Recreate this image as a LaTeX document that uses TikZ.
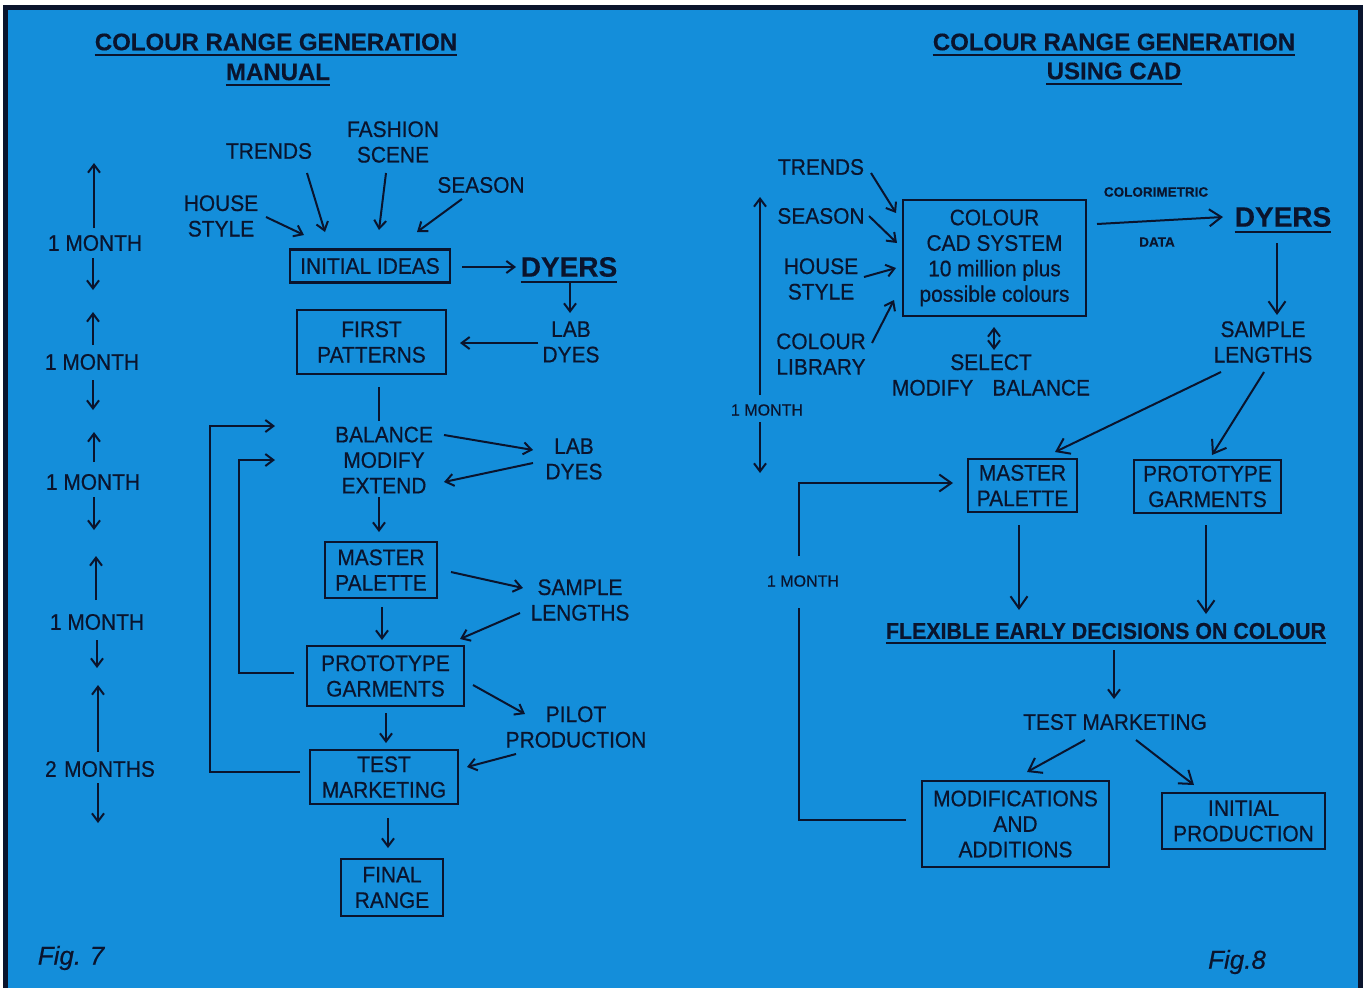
\documentclass[tikz,border=0pt]{standalone}
\usepackage{fontspec}
\setmainfont{Liberation Sans}[FakeStretch=0.93,FakeBold=0.5]
\newfontfamily\wide{Liberation Sans}[FakeBold=0.3]
\usetikzlibrary{arrows.meta}
\definecolor{bg}{RGB}{20,142,218}
\definecolor{ink}{RGB}{10,20,45}
\begin{document}
\begin{tikzpicture}[x=1pt,y=-1pt,
  txt/.style={font=\fontsize{22.5}{25.5}\selectfont, align=center, inner sep=0pt, text=ink},
  box/.style={txt, draw=ink, line width=2.2pt},
  ttl/.style={font=\wide\bfseries\fontsize{24}{28}\selectfont, inner sep=0pt, text=ink},
  big/.style={font=\wide\bfseries\fontsize{28}{32}\selectfont, inner sep=0pt, text=ink},
  flexs/.style={font=\bfseries\fontsize{23}{26}\selectfont, inner sep=0pt, text=ink},
  small/.style={font=\wide\bfseries\fontsize{13.5}{16}\selectfont, inner sep=0pt, text=ink},
  smallm/.style={font=\wide\fontsize{16}{18}\selectfont, inner sep=0pt, text=ink},
  figs/.style={font=\wide\itshape\fontsize{26}{30}\selectfont, inner sep=0pt, text=ink},
  ln/.style={draw=ink, line width=2pt},
  arr/.style={ln, -{Straight Barb[length=8pt,width=12pt]}},
  arrB/.style={ln, -{Straight Barb[length=12pt,width=17pt]}},
  ul/.style={draw=ink, line width=2pt}]
\useasboundingbox (0,0) rectangle (1367,988);
% background and frame
\fill[white] (0,0) rectangle (1367,988);
\fill[ink] (3,5) rectangle (1363,988);
\fill[bg] (8,10) rectangle (1358,988);

% ---------------- LEFT PANEL ----------------
\node[ttl] (t1) at (276,42) {COLOUR RANGE GENERATION};
\node[ttl] (t2) at (278,72) {MANUAL};
\draw[ul] ([yshift=-4.5pt]t1.base west) -- ([yshift=-4.5pt]t1.base east);
\draw[ul] ([yshift=-4.5pt]t2.base west) -- ([yshift=-4.5pt]t2.base east);

\node[txt] (trends1) at (269,151) {TRENDS};
\node[txt] (fashion) at (393,142) {FASHION\\SCENE};
\node[txt] (season1) at (481,185) {SEASON};
\node[txt] (house1) at (221,216) {HOUSE\\STYLE};
\node[box, minimum width=160, minimum height=33] (initial) at (370,266) {INITIAL IDEAS};
\node[big] (dyers1) at (569,267) {DYERS};
\draw[ul] ([yshift=-5pt]dyers1.base west) -- ([yshift=-5pt]dyers1.base east);
\node[txt] (lab1) at (571,342) {LAB\\DYES};
\node[box, minimum width=149, minimum height=64] (first) at (371.5,342) {FIRST\\PATTERNS};
\node[txt] (bme) at (384,460) {BALANCE\\MODIFY\\EXTEND};
\node[txt] (lab2) at (574,459) {LAB\\DYES};
\node[box, minimum width=112, minimum height=56] (master1) at (381,570) {MASTER\\PALETTE};
\node[txt] (sample1) at (580,600) {SAMPLE\\LENGTHS};
\node[box, minimum width=157, minimum height=60] (proto1) at (385.5,676) {PROTOTYPE\\GARMENTS};
\node[txt] (pilot) at (576,727) {PILOT\\PRODUCTION};
\node[box, minimum width=148, minimum height=54] (test1) at (384,777) {TEST\\MARKETING};
\node[box, minimum width=102, minimum height=57] (final) at (392,887.5) {FINAL\\RANGE};
\node[figs] (fig7) at (71,958) {Fig.\,\,7};

% months
\node[txt] (m1) at (95,243) {1 MONTH};
\node[txt] (m2) at (92,362) {1 MONTH};
\node[txt] (m3) at (93,482) {1 MONTH};
\node[txt] (m4) at (97,622) {1 MONTH};
\node[txt] (m5) at (100,769) {2\,\,MONTHS};
\draw[arr] (94,228) -- (94,163);
\draw[arr] (93,258) -- (93,290);
\draw[arr] (93,345) -- (93,312);
\draw[arr] (93,380) -- (93,410);
\draw[arr] (94,462) -- (94,432);
\draw[arr] (94,497) -- (94,530);
\draw[arr] (96,600) -- (96,556);
\draw[arr] (97,640) -- (97,668);
\draw[arr] (98,752) -- (98,685);
\draw[arr] (98,783) -- (98,823);

% left connectors
\draw[arr] (266,217) -- (304,235);
\draw[arr] (307,173) -- (325,232);
\draw[arr] (386,173) -- (379,230);
\draw[arr] (462,199) -- (417,232);
\draw[arr] (462,267) -- (516,267);
\draw[arr] (570,283) -- (570,313);
\draw[arr] (538,343) -- (460,343);
\draw[ln] (379,387) -- (379,421);
\draw[arr] (444,435) -- (533,450);
\draw[arr] (533,463) -- (444,482);
\draw[arr] (379,497) -- (379,532);
\draw[arr] (451,572) -- (523,588);
\draw[arr] (520,613) -- (460,639);
\draw[arr] (382,607) -- (382,640);
\draw[arr] (473,685) -- (525,714);
\draw[arr] (516,754) -- (467,767);
\draw[arr] (386,713) -- (386,743);
\draw[arr] (388,818) -- (388,848);
\draw[arr] (294,673) -- (239,673) -- (239,460) -- (275,460);
\draw[arr] (300,772) -- (210,772) -- (210,426) -- (275,426);

% ---------------- RIGHT PANEL ----------------
\node[ttl] (t3) at (1114,42) {COLOUR RANGE GENERATION};
\node[ttl] (t4) at (1114,71) {USING CAD};
\draw[ul] ([yshift=-4.5pt]t3.base west) -- ([yshift=-4.5pt]t3.base east);
\draw[ul] ([yshift=-4.5pt]t4.base west) -- ([yshift=-4.5pt]t4.base east);

\node[txt] (trends2) at (821,167) {TRENDS};
\node[txt] (season2) at (821,216) {SEASON};
\node[txt] (house2) at (821,279) {HOUSE\\STYLE};
\node[txt] (library) at (821,354) {COLOUR\\LIBRARY};
\node[box, minimum width=183, minimum height=116] (cad) at (994.5,258) {COLOUR\\CAD SYSTEM\\10 million plus\\possible colours};
\node[txt] (select) at (991,375) {SELECT\\MODIFY\hspace{19pt}BALANCE};
\node[small] (colorim) at (1156,192) {COLORIMETRIC};
\node[small] (data) at (1157,242) {DATA};
\node[big] (dyers2) at (1283,217) {DYERS};
\draw[ul] ([yshift=-5pt]dyers2.base west) -- ([yshift=-5pt]dyers2.base east);
\node[txt] (sample2) at (1263,342) {SAMPLE\\LENGTHS};
\node[box, minimum width=109, minimum height=53] (master2) at (1022.5,485.5) {MASTER\\PALETTE};
\node[box, minimum width=147, minimum height=53] (proto2) at (1207.5,486.5) {PROTOTYPE\\GARMENTS};
\node[flexs] (flex) at (1106,631) {FLEXIBLE EARLY DECISIONS ON COLOUR};
\draw[ul] ([yshift=-4.5pt]flex.base west) -- ([yshift=-4.5pt]flex.base east);
\node[txt] (testm) at (1115,722) {TEST MARKETING};
\node[box, minimum width=187, minimum height=86] (modif) at (1015.5,824) {MODIFICATIONS\\AND\\ADDITIONS};
\node[box, minimum width=163, minimum height=56] (initprod) at (1243.5,821) {INITIAL\\PRODUCTION};
\node[smallm] (mr1) at (767,410) {1 MONTH};
\node[smallm] (mr2) at (803,581) {1 MONTH};
\node[figs] (fig8) at (1237,962) {Fig.8};

\draw[arr] (760,395) -- (760,197);
\draw[arr] (760,422) -- (760,473);
\draw[arr] (871,173) -- (896,213);
\draw[arr] (869,216) -- (897,243);
\draw[arr] (864,277) -- (896,268);
\draw[arr] (872,343) -- (894,300);
\draw[arrB] (1097,224) -- (1223,217);
\draw[ln, {Straight Barb[length=8pt,width=12pt]}-{Straight Barb[length=8pt,width=12pt]}] (994,327) -- (994,350);
\draw[arrB] (1277,243) -- (1277,315);
\draw[arrB] (1221,372) -- (1055,452);
\draw[arrB] (1264,372) -- (1212,455);
\draw[arrB] (1019,525) -- (1019,610);
\draw[arrB] (1206,525) -- (1206,614);
\draw[arr] (1114,650) -- (1114,699);
\draw[arrB] (1085,740) -- (1027,772);
\draw[arrB] (1136,740) -- (1194,785);
\draw[ln] (906,820) -- (799,820) -- (799,608);
\draw[arrB] (799,556) -- (799,483) -- (953,483);
\end{tikzpicture}
\end{document}
